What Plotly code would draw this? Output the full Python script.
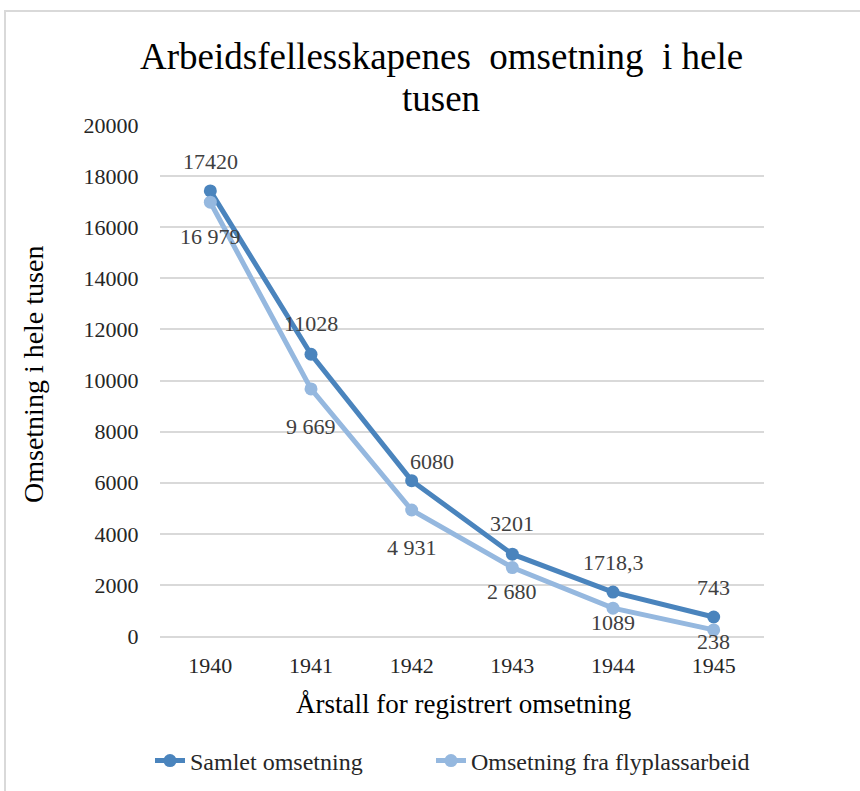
import plotly.graph_objects as go

years = ["1940", "1941", "1942", "1943", "1944", "1945"]
samlet = [17420, 11028, 6080, 3201, 1718.3, 743]
flyplass = [16979, 9669, 4931, 2680, 1089, 238]
samlet_labels = ["17420", "11028", "6080", "3201", "1718,3", "743"]
flyplass_labels = ["16 979", "9 669", "4 931", "2 680", "1089", "238"]
title_lines = ["Arbeidsfellesskapenes  omsetning  i hele", "tusen"]

# label offsets (px) - style only
samlet_shift = [29, 31, 19, 31, 30, 30]
samlet_xshift = [0, 0, 20, 0, 0, 0]
flyplass_shift = [-34, -38, -37, -24, -14, -12]

DARK = "#4A84BD"
LIGHT = "#95B8DF"
FONT = "Liberation Serif"
LBL = "#404040"

# plot-area pixel geometry
L, R, T, B = 160, 764, 125, 636
W, H = R - L, B - T


def px(x):
    return (x - L) / W


def py(y):
    return (B - y) / H


fig = go.Figure()
fig.add_trace(go.Scatter(x=years, y=samlet, mode="lines+markers", name="Samlet omsetning",
                         line=dict(color=DARK, width=5), marker=dict(color=DARK, size=13),
                         legend="legend"))
fig.add_trace(go.Scatter(x=years, y=flyplass, mode="lines+markers", name="Omsetning fra flyplassarbeid",
                         line=dict(color=LIGHT, width=5), marker=dict(color=LIGHT, size=13),
                         legend="legend2"))

annotations = []
for i, (y, t, s, xs) in enumerate(zip(samlet, samlet_labels, samlet_shift, samlet_xshift)):
    annotations.append(dict(x=i, y=y, xref="x", yref="y", text=t, showarrow=False,
                            yshift=s, xshift=xs, xanchor="center", yanchor="middle",
                            font=dict(family=FONT, size=22, color=LBL)))
for i, (y, t, s) in enumerate(zip(flyplass, flyplass_labels, flyplass_shift)):
    annotations.append(dict(x=i, y=y, xref="x", yref="y", text=t, showarrow=False,
                            yshift=s, xanchor="center", yanchor="middle",
                            font=dict(family=FONT, size=22, color=LBL)))

for line, yc in zip(title_lines, [56, 99]):
    annotations.append(dict(x=px(441), y=py(yc), xref="paper", yref="paper", text=line,
                            showarrow=False, xanchor="center", yanchor="middle",
                            font=dict(family=FONT, size=37, color="black")))

annotations.append(dict(x=px(33), y=py(375), xref="paper", yref="paper",
                        text="Omsetning i hele tusen", textangle=-90, showarrow=False,
                        xanchor="center", yanchor="middle",
                        font=dict(family=FONT, size=28, color="black")))
annotations.append(dict(x=px(463), y=py(704), xref="paper", yref="paper",
                        text="Årstall for registrert omsetning", showarrow=False,
                        xanchor="center", yanchor="middle",
                        font=dict(family=FONT, size=27, color="black")))

legend_style = dict(orientation="h", xanchor="left", yanchor="middle",
                    font=dict(family=FONT, size=24, color="#262626"),
                    bgcolor="rgba(0,0,0,0)")

fig.update_layout(
    width=860, height=791,
    margin=dict(l=L, r=860 - R, t=T, b=791 - B, autoexpand=False),
    paper_bgcolor="white", plot_bgcolor="white",
    font=dict(family=FONT, size=22, color="#262626"),
    annotations=annotations,
    showlegend=True,
    legend=dict(x=px(150), y=py(761), **legend_style),
    legend2=dict(x=px(431), y=py(761), **legend_style),
    shapes=[dict(type="rect", xref="paper", yref="paper",
                 x0=px(5), x1=px(870), y0=py(800), y1=py(11),
                 line=dict(color="#d9d9d9", width=2), layer="below")],
)
fig.update_yaxes(range=[0, 20000], dtick=2000, showgrid=True, gridcolor="#d9d9d9", gridwidth=2,
                 zeroline=False, showline=False, ticks="outside", ticklen=16,
                 tickcolor="rgba(0,0,0,0)", tickfont=dict(family=FONT, size=22, color="#262626"),
                 tickformat="d")
fig.update_xaxes(type="category", range=[-0.5, 5.5], showgrid=False, showline=True,
                 linecolor="#d9d9d9", linewidth=2, ticks="outside", ticklen=9,
                 tickcolor="rgba(0,0,0,0)", tickfont=dict(family=FONT, size=22, color="#262626"))

fig.write_html("out.html", config={"displayModeBar": False},
               post_script="document.body.style.margin='0';")
